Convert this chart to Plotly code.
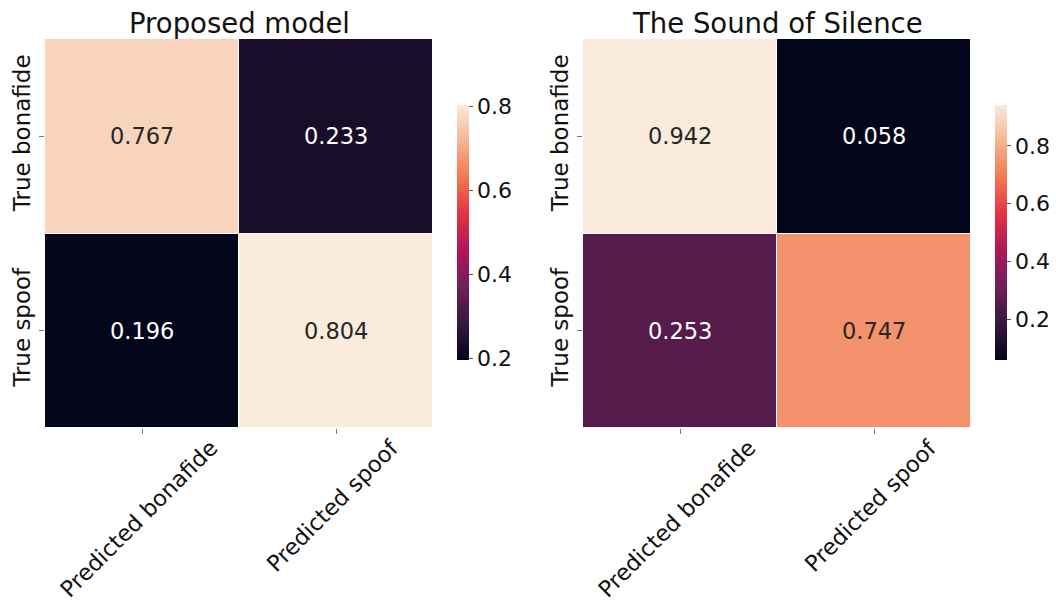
import plotly.graph_objects as go

titles = ["Proposed model", "The Sound of Silence"]
x_labels = ["Predicted bonafide", "Predicted spoof"]
y_labels = ["True bonafide", "True spoof"]
proposed = [[0.767, 0.233], [0.196, 0.804]]
silence = [[0.942, 0.058], [0.253, 0.747]]
matrices = [proposed, silence]

rocket = [
    [0.0, "#03051a"], [1/7, "#35193e"], [2/7, "#701f57"], [3/7, "#ad1759"],
    [4/7, "#e13342"], [5/7, "#f37651"], [6/7, "#f6b48f"], [1.0, "#faebdd"],
]

W, H = 1056, 603
def px_x(v): return v / W
def px_y(v): return 1 - v / H

x_domains = [[px_x(45), px_x(433)], [px_x(583), px_x(971)]]
y_domain = [px_y(428), px_y(39)]
cbar_x = [px_x(457), px_x(995)]
FONT = "DejaVu Sans"

fig = go.Figure()
annotations = []
for i, z in enumerate(matrices):
    xa = "x" if i == 0 else "x2"
    ya = "y" if i == 0 else "y2"
    flat = [v for row in z for v in row]
    zmin, zmax = min(flat), max(flat)
    fig.add_trace(go.Heatmap(
        z=z, x=x_labels, y=y_labels, xaxis=xa, yaxis=ya,
        colorscale=rocket, zmin=zmin, zmax=zmax, xgap=1, ygap=1,
        hoverinfo="skip",
        colorbar=dict(
            x=cbar_x[i], xanchor="left", xpad=0, ypad=0, y=px_y(232.5), yanchor="middle",
            len=255 / H, lenmode="fraction", thickness=12, outlinewidth=0,
            tickvals=[0.2, 0.4, 0.6, 0.8], ticktext=["0.2", "0.4", "0.6", "0.8"],
            ticks="outside", ticklen=4, tickcolor="#555555",
            tickfont=dict(family=FONT, size=22, color="#111111"),
        ),
    ))
    for r, yl in enumerate(y_labels):
        for c, xl in enumerate(x_labels):
            v = z[r][c]
            frac = (v - zmin) / (zmax - zmin)
            color = "#262626" if frac > 0.5 else "#ffffff"
            annotations.append(dict(
                x=xl, y=yl, xref=xa, yref=ya, text=f"{v:.3f}", showarrow=False,
                font=dict(family=FONT, size=22.5, color=color),
            ))
    for xl in x_labels:
        annotations.append(dict(
            x=xl, y=px_y(432), xref=xa, yref="paper", text=xl, showarrow=False,
            textangle=-45, xanchor="center", yanchor="top", xshift=-4,
            font=dict(family=FONT, size=22.5, color="#111111"),
        ))
    annotations.append(dict(
        x=sum(x_domains[i]) / 2, y=px_y(23), xref="paper", yref="paper",
        text=titles[i], showarrow=False, xanchor="center", yanchor="middle",
        font=dict(family=FONT, size=27.5, color="#111111"),
    ))

axis_common = dict(
    showgrid=False, zeroline=False, showline=False, ticks="outside",
    ticklen=5, tickcolor="#777777", tickwidth=1, automargin=False,
    tickfont=dict(family=FONT, size=23, color="#111111"),
)
fig.update_layout(
    template="none",
    width=W, height=H, margin=dict(l=0, r=0, t=0, b=0, autoexpand=False),
    paper_bgcolor="white", plot_bgcolor="white",
    xaxis=dict(domain=x_domains[0], anchor="y", showticklabels=False, **axis_common),
    yaxis=dict(domain=y_domain, anchor="x", tickangle=-90, autorange="reversed", **axis_common),
    xaxis2=dict(domain=x_domains[1], anchor="y2", showticklabels=False, **axis_common),
    yaxis2=dict(domain=y_domain, anchor="x2", tickangle=-90, autorange="reversed", **axis_common),
    annotations=annotations,
    showlegend=False,
)
fig.write_html("out.html", config={"displayModeBar": False},
               post_script="document.body.style.margin='0px';")
